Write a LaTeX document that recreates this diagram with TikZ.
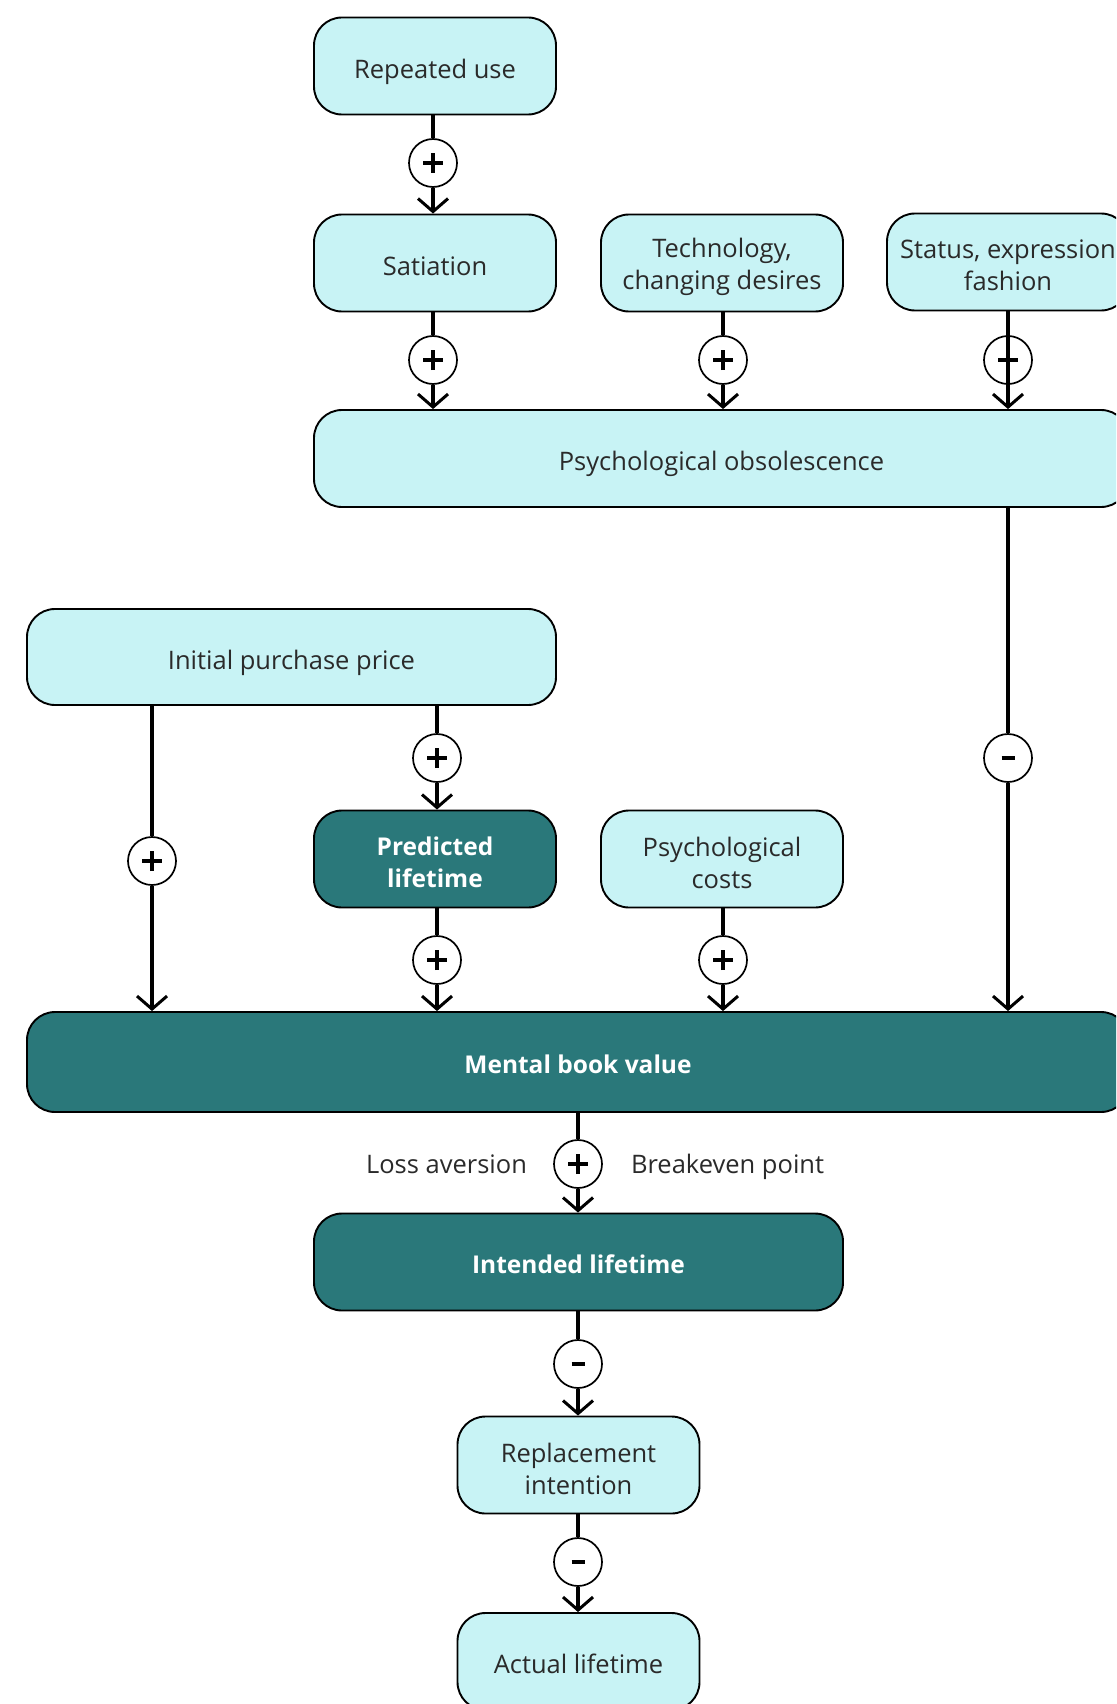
\documentclass[tikz,border=0pt]{standalone}
\usepackage{fontspec}
\setmainfont{Open Sans}
\usetikzlibrary{arrows.meta,positioning}
\definecolor{lightbox}{HTML}{C8F3F5}
\definecolor{darkbox}{HTML}{2A787A}
\definecolor{boxtext}{HTML}{2A2A2A}
% invisible struts: fix first-line height and last-line depth so labels sit centred
\newcommand\topstrut{\rule[-0.25em]{0pt}{1.46em}}
\newcommand\bottomstrut{\rule[-0.25em]{0pt}{0.25em}}

\begin{document}
\begin{tikzpicture}[x=1pt,y=-1pt,
  box/.style={draw=black, line width=1.9pt, rounded corners=28pt, align=center,
    inner sep=0pt, execute at begin node=\topstrut, execute at end node=\bottomstrut},
  lightnode/.style={box, fill=lightbox, text=boxtext, font=\fontsize{25.5}{32}\selectfont},
  darknode/.style={box, fill=darkbox, text=white, font=\fontsize{24.5}{32}\selectfont\bfseries},
  narrow/.style={minimum width=242pt, minimum height=97pt},
  % two-line captions set as a centred label, nudged down a little
  lighttext/.style={align=center, inner sep=0pt, yshift=-3.5pt, text=boxtext,
    font=\fontsize{25.5}{32}\selectfont},
  darktext/.style={align=center, inner sep=0pt, yshift=-3.5pt, text=white,
    font=\fontsize{24.5}{32}\selectfont\bfseries},
  sign/.style={circle, draw=black, fill=white, line width=1.7pt, minimum size=48pt, inner sep=0pt},
  plus/.style={sign, path picture={
      \draw[line width=3.8pt] (path picture bounding box.center) ++(-10pt,0) -- ++(20pt,0);
      \draw[line width=3.8pt] (path picture bounding box.center) ++(0,-10pt) -- ++(0,20pt);}},
  minus/.style={sign, path picture={
      \draw[line width=3.6pt] (path picture bounding box.center) ++(-6.5pt,0) -- ++(13pt,0);}},
  link/.style={line width=3.2pt},
  flow/.style={line width=3.2pt, -{Straight Barb[length=13pt,width=30pt,line width=3pt]}},
  note/.style={text=boxtext, font=\fontsize{25.5}{32}\selectfont, inner sep=0pt,
    execute at begin node=\rule[-0.25em]{0pt}{1.22em}}
]
\useasboundingbox (0,0) rectangle (1116,1704);
\clip (0,0) rectangle (1116,1704);

% top row of drivers
\node[lightnode, narrow] (ru) at (435,66) {Repeated use};
\node[plus] (s1) at (433,163) {};
\node[lightnode, narrow] (sat) at (435,263) {Satiation};
\node[lightnode, narrow, label={[lighttext]center:{Technology,\\changing desires}}] (tech) at (722,263) {};
\node[lightnode, narrow, label={[lighttext]center:{Status, expression\\fashion}}] (stat) at (1008,262) {};
\node[plus] (s2) at (433,360) {};
\node[plus] (s3) at (723,360) {};
\node[plus, fill=none] (s4) at (1008,360) {};
\node[lightnode, minimum width=815pt, minimum height=97pt] (po) at (721.5,458.5) {Psychological obsolescence};

% middle block
\node[lightnode, minimum width=529pt, minimum height=96pt] (ipp) at (291.5,657) {Initial purchase price};
\node[plus] (s5) at (152,861) {};
\node[plus] (s6) at (437,758) {};
\node[minus] (s7) at (1008,758) {};
\node[darknode, narrow, label={[darktext]center:{Predicted\\lifetime}}] (pl) at (435,859) {};
\node[lightnode, narrow, label={[lighttext]center:{Psychological\\costs}}] (pc) at (722,859) {};
\node[plus] (s8) at (437,960) {};
\node[plus] (s9) at (723,960) {};
\node[darknode, minimum width=1102pt, minimum height=100pt] (mbv) at (578,1062) {Mental book value};

% lower chain
\node[plus] (s10) at (578,1164) {};
\node[note, left=26pt of s10] (loss) {Loss aversion};
\node[note, right=28pt of s10] (be) {Breakeven point};
\node[darknode, minimum width=529pt, minimum height=97pt] (il) at (578.5,1262) {Intended lifetime};
\node[minus] (s11) at (578,1364) {};
\node[lightnode, narrow, label={[lighttext]center:{Replacement\\intention}}] (ri) at (578.5,1465) {};
\node[minus] (s12) at (578,1562) {};
\node[lightnode, narrow] (al) at (578.5,1661.5) {Actual lifetime};

% connectors
\draw[link] (ru.south -| s1) -- (s1);
\draw[flow] (s1) -- (s1 |- sat.north);
\draw[link] (sat.south -| s2) -- (s2);
\draw[flow] (s2) -- (s2 |- po.north);
\draw[link] (tech.south -| s3) -- (s3);
\draw[flow] (s3) -- (s3 |- po.north);
\draw[flow] (stat.south -| s4) -- (s4 |- po.north);

\draw[link] (ipp.south -| s5) -- (s5);
\draw[flow] (s5) -- (s5 |- mbv.north);
\draw[link] (ipp.south -| s6) -- (s6);
\draw[flow] (s6) -- (s6 |- pl.north);
\draw[link] (po.south -| s7) -- (s7);
\draw[flow] (s7) -- (s7 |- mbv.north);
\draw[link] (pl.south -| s8) -- (s8);
\draw[flow] (s8) -- (s8 |- mbv.north);
\draw[link] (pc.south -| s9) -- (s9);
\draw[flow] (s9) -- (s9 |- mbv.north);

\draw[link] (mbv.south -| s10) -- (s10);
\draw[flow] (s10) -- (s10 |- il.north);
\draw[link] (il.south -| s11) -- (s11);
\draw[flow] (s11) -- (s11 |- ri.north);
\draw[link] (ri.south -| s12) -- (s12);
\draw[flow] (s12) -- (s12 |- al.north);
\end{tikzpicture}
\end{document}
